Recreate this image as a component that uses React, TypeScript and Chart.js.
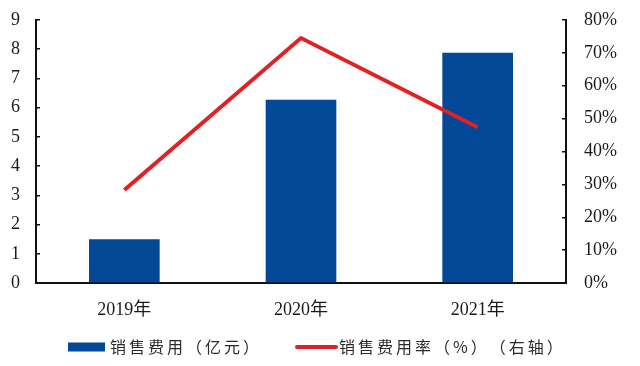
import React, { useEffect, useRef } from "react";
import { Chart, registerables } from "chart.js";

Chart.register(...registerables);

const categories = ["2019年", "2020年", "2021年"];
const salesExpense = [1.5, 6.27, 7.88];
const salesExpenseRate = [0.283, 0.745, 0.474];
const seriesNames = ["销售费用（亿元）", "销售费用率（%）（右轴）"];
const leftAxisMax = 9;
const rightAxisMax = 0.8;

const BLUE = "#034896";
const RED = "#E02222";
const TEXT = "#1a1a1a";
const AXIS = "#111111";
const SERIF = '"Liberation Serif", "Times New Roman", "Noto Sans CJK SC", serif';
const CJK = '"Noto Sans CJK SC", sans-serif';

function drawSpaced(ctx: CanvasRenderingContext2D, text: string, x: number, y: number, spacing: number) {
  let cx = x;
  for (const ch of Array.from(text)) {
    ctx.fillText(ch, cx, y);
    cx += ctx.measureText(ch).width + spacing;
  }
}

const legendPlugin = {
  id: "customLegend",
  afterDraw(chart: any) {
    const { ctx, chartArea } = chart;
    const ds = chart.data.datasets;
    const y = chartArea.bottom + 64;
    ctx.save();
    ctx.font = "16px " + CJK;
    ctx.textBaseline = "middle";
    ctx.textAlign = "left";
    // bar item
    let x = chartArea.left + 32;
    ctx.fillStyle = ds[0].backgroundColor;
    ctx.fillRect(x, y - 4.5, 37, 9);
    ctx.fillStyle = "#2a2a2a";
    drawSpaced(ctx, ds[0].label, x + 42, y, 3);
    // line item
    x = chartArea.left + 261;
    ctx.strokeStyle = ds[1].borderColor;
    ctx.lineWidth = 4;
    ctx.lineCap = "round";
    ctx.beginPath();
    ctx.moveTo(x, y);
    ctx.lineTo(x + 39, y);
    ctx.stroke();
    ctx.fillStyle = "#2a2a2a";
    drawSpaced(ctx, ds[1].label, x + 42, y, 3);
    ctx.restore();
  },
};

const fixVerticalPadding = (s: any) => {
  s.paddingTop = 11;
  s.paddingBottom = 11;
};

export default function App() {
  const canvasRef = useRef<HTMLCanvasElement | null>(null);

  useEffect(() => {
    if (!canvasRef.current) return;
    const chart = new Chart(canvasRef.current, {
      type: "bar",
      data: {
        labels: categories,
        datasets: [
          {
            type: "bar",
            label: seriesNames[0],
            data: salesExpense,
            backgroundColor: BLUE,
            borderWidth: 0,
            barPercentage: 0.4,
            categoryPercentage: 1,
            yAxisID: "y",
            order: 1,
          },
          {
            type: "line",
            label: seriesNames[1],
            data: salesExpenseRate,
            borderColor: RED,
            backgroundColor: RED,
            borderWidth: 4,
            pointRadius: 0,
            tension: 0,
            yAxisID: "y1",
            order: 0,
          },
        ],
      } as any,
      options: {
        responsive: true,
        maintainAspectRatio: false,
        animation: false,
        layout: { padding: { top: 20, bottom: 43, left: 0, right: 0 } },
        plugins: {
          legend: { display: false },
          tooltip: { enabled: false },
        },
        scales: {
          x: {
            type: "category",
            offset: true,
            grid: { display: true, drawOnChartArea: false, drawTicks: false },
            border: { display: true, color: AXIS, width: 2 },
            ticks: {
              color: TEXT,
              font: { family: SERIF, size: 18 },
              padding: 16,
              maxRotation: 0,
            },
            afterFit: (s: any) => {
              s.height = 40;
            },
          },
          y: {
            position: "left",
            min: 0,
            max: leftAxisMax,
            ticks: {
              stepSize: 1,
              color: TEXT,
              font: { family: SERIF, size: 18 },
              padding: 20,
            },
            grid: { drawOnChartArea: false, tickLength: -4, color: AXIS, lineWidth: 1.5 },
            border: { display: true, color: AXIS, width: 2 },
            afterFit: (s: any) => {
              s.width = 36;
              fixVerticalPadding(s);
            },
          },
          y1: {
            position: "right",
            min: 0,
            max: rightAxisMax,
            ticks: {
              stepSize: 0.1,
              color: TEXT,
              font: { family: SERIF, size: 18 },
              padding: 22,
              callback: (v: any) => Math.round(Number(v) * 100) + "%",
            },
            grid: { drawOnChartArea: false, tickLength: -4, color: AXIS, lineWidth: 1.5 },
            border: { display: true, color: AXIS, width: 2 },
            afterFit: (s: any) => {
              s.width = 74;
              fixVerticalPadding(s);
            },
          },
        },
      } as any,
      plugins: [legendPlugin],
    });
    return () => chart.destroy();
  }, []);

  return (
    <div
      style={{
        position: "fixed",
        left: 0,
        top: 0,
        width: 640,
        height: 366,
        background: "#ffffff",
      }}
    >
      <canvas ref={canvasRef} />
    </div>
  );
}
